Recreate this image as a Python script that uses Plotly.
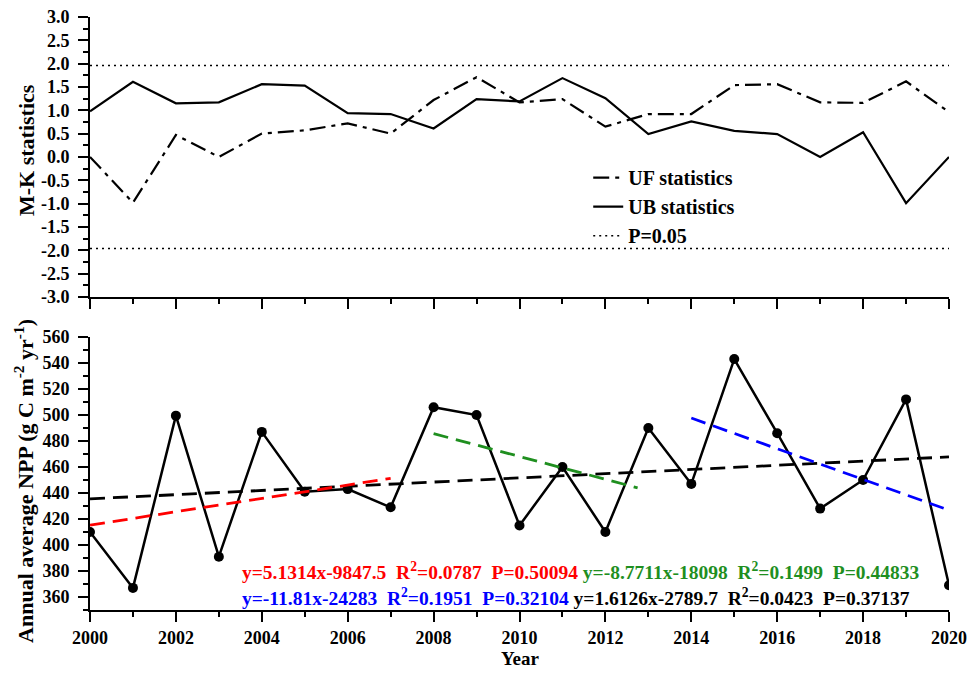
import plotly.graph_objects as go

# ---------------- data ----------------
years = list(range(2000, 2021))
uf_stat = [0.0, -0.98, 0.47, 0.0, 0.5, 0.57, 0.72, 0.5, 1.22, 1.71, 1.17,
           1.24, 0.65, 0.92, 0.92, 1.54, 1.56, 1.17, 1.16, 1.62, 0.96]
ub_stat = [0.98, 1.61, 1.15, 1.17, 1.56, 1.53, 0.94, 0.92, 0.61, 1.24, 1.19,
           1.69, 1.26, 0.49, 0.76, 0.56, 0.49, 0.0, 0.53, -0.99, 0.0]
p_crit = 1.96
npp = [410, 367, 499.5, 391, 487, 441, 443, 429, 506, 500, 415,
       460, 410, 490, 447, 543, 486, 428, 450, 512, 369]

mk_tickvals = [-3.0, -2.5, -2.0, -1.5, -1.0, -0.5, 0.0, 0.5, 1.0, 1.5, 2.0, 2.5, 3.0]
mk_ticktext = ["-3.0", "-2.5", "-2.0", "-1.5", "-1.0", "-0.5", "0.0",
               "0.5", "1.0", "1.5", "2.0", "2.5", "3.0"]
npp_tickvals = [360, 380, 400, 420, 440, 460, 480, 500, 520, 540, 560]
year_tickvals = [2000, 2002, 2004, 2006, 2008, 2010, 2012, 2014, 2016, 2018, 2020]

# linear fits: slope, intercept, start year, end year, colour
fit_slopes = [1.6126, 5.1314, -8.7711, -11.81]
fit_intercepts = [-2789.7, -9847.5, 18098, 24283]
fit_starts = [2000, 2000, 2008, 2014]
fit_ends = [2020, 2007, 2012.75, 2019.9]
fit_colors = ["#000000", "#ff0000", "#1f8f1f", "#0000ff"]

label_line1 = [("y=5.1314x-9847.5  R<sup>2</sup>=0.0787  P=0.50094", "#ff0000"),
               (" y=-8.7711x-18098  R<sup>2</sup>=0.1499  P=0.44833", "#1f8f1f")]
label_line2 = [("y=-11.81x-24283  R<sup>2</sup>=0.1951  P=0.32104", "#0000ff"),
               (" y=1.6126x-2789.7  R<sup>2</sup>=0.0423  P=0.37137", "#000000")]

FONT = "Liberation Serif, Times New Roman, serif"

fig = go.Figure()

# ---------------- top panel: M-K ----------------
fig.add_trace(go.Scatter(x=years, y=uf_stat, mode="lines", name="UF statistics",
                         line=dict(color="black", width=2.2, dash="16px,6px,4px,6px"),
                         xaxis="x", yaxis="y"))
fig.add_trace(go.Scatter(x=years, y=ub_stat, mode="lines", name="UB statistics",
                         line=dict(color="black", width=2.2),
                         xaxis="x", yaxis="y"))
fig.add_trace(go.Scatter(x=[years[0], years[-1], None, years[0], years[-1]],
                         y=[p_crit, p_crit, None, -p_crit, -p_crit],
                         mode="lines", name="P=0.05",
                         line=dict(color="black", width=1.5, dash="2px,4px"),
                         xaxis="x", yaxis="y"))

# ---------------- bottom panel: NPP ----------------
fig.add_trace(go.Scatter(x=years, y=npp, mode="lines+markers", showlegend=False,
                         line=dict(color="black", width=2.5),
                         marker=dict(color="black", size=10),
                         xaxis="x2", yaxis="y2"))
for s, b, x0, x1, c in zip(fit_slopes, fit_intercepts, fit_starts, fit_ends, fit_colors):
    fig.add_trace(go.Scatter(x=[x0, x1], y=[s * x0 + b, s * x1 + b], mode="lines",
                             showlegend=False,
                             line=dict(color=c, width=2.8, dash="15px,8px"),
                             xaxis="x2", yaxis="y2"))

def colored(parts):
    return "".join(f'<span style="color:{c}">{t.replace("  ", chr(160) * 2)}</span>'
                   for t, c in parts)

fig.add_annotation(x=2003.5, y=380, xref="x2", yref="y2", xanchor="left", yanchor="middle",
                   text=colored(label_line1), showarrow=False,
                   font=dict(family=FONT, size=19.5, weight="bold"))
fig.add_annotation(x=2003.5, y=360, xref="x2", yref="y2", xanchor="left", yanchor="middle",
                   text=colored(label_line2), showarrow=False,
                   font=dict(family=FONT, size=19.5, weight="bold"))

# axis titles as annotations (exact placement)
title_font = dict(family=FONT, size=22, weight="bold", color="black")
fig.add_annotation(x=-0.0745, y=0.7757, xref="paper", yref="paper", textangle=-90,
                   text="M-K statistics", showarrow=False, font=title_font,
                   xanchor="center", yanchor="middle")
fig.add_annotation(x=-0.077, y=0.2175, xref="paper", yref="paper", textangle=-90,
                   text="Annual average NPP (g C m<sup>-2</sup> yr<sup>-1</sup>)",
                   showarrow=False, font=title_font, xanchor="center", yanchor="middle")
fig.add_annotation(x=0.5006, y=-0.0826, xref="paper", yref="paper",
                   text="Year", showarrow=False,
                   font=dict(family=FONT, size=19, weight="bold", color="black"),
                   xanchor="center", yanchor="middle")

axis_common = dict(showline=True, linecolor="black", linewidth=2, ticks="outside",
                   tickcolor="black", tickwidth=2, ticklen=10, showgrid=False,
                   zeroline=False, mirror=False, automargin=False,
                   ticklabeloverflow="allow",
                   tickfont=dict(family=FONT, size=18, color="black", weight="bold"))

fig.update_layout(
    width=964, height=662,
    paper_bgcolor="white", plot_bgcolor="white",
    margin=dict(l=82, r=23, t=9, b=60),
    font=dict(family=FONT, color="black", weight="bold"),
    showlegend=True,
    legend=dict(x=0.580, y=0.762, xanchor="left", yanchor="top",
                bgcolor="rgba(0,0,0,0)", font=dict(family=FONT, size=20, weight="bold"),
                tracegroupgap=0),
    xaxis=dict(axis_common, domain=[0, 1], anchor="y", range=[2000, 2020],
               tickvals=year_tickvals, showticklabels=False,
               minor=dict(dtick=1, ticks="outside", ticklen=5, tickwidth=2, tickcolor="black")),
    yaxis=dict(axis_common, domain=[0.528, 1], anchor="x", range=[-3, 3],
               tickvals=mk_tickvals, ticktext=mk_ticktext, ticklabelstandoff=5,
               minor=dict(dtick=0.25, ticks="outside", ticklen=5, tickwidth=2, tickcolor="black")),
    xaxis2=dict(axis_common, domain=[0, 1], anchor="y2", range=[2000, 2020],
                tickvals=year_tickvals, ticklabelstandoff=0,
                minor=dict(dtick=1, ticks="outside", ticklen=5, tickwidth=2, tickcolor="black")),
    yaxis2=dict(axis_common, domain=[0, 0.4604], anchor="x2", range=[350, 560],
                tickvals=npp_tickvals, ticklabelstandoff=5,
                minor=dict(dtick=10, ticks="outside", ticklen=5, tickwidth=2, tickcolor="black")),
)

fig.write_html("out.html")
